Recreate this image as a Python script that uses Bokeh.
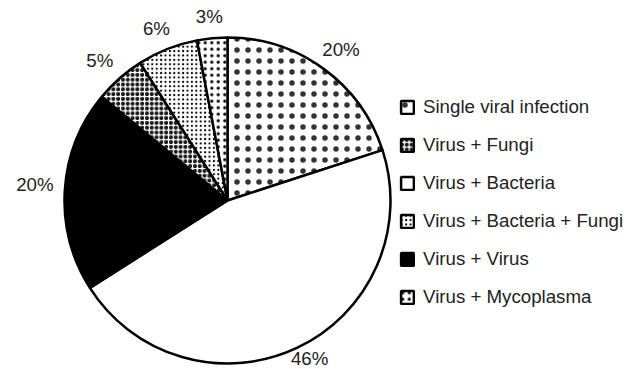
import math
from bokeh.plotting import figure
from bokeh.models import Legend, LegendItem
from bokeh.core.properties import value
from bokeh.embed import file_html
from bokeh.resources import INLINE

# Data (pie order, clockwise from 12 o'clock)
categories = ["Single viral infection", "Virus + Bacteria", "Virus + Virus",
              "Virus + Fungi", "Virus + Bacteria + Fungi", "Virus + Mycoplasma"]
percents = [20, 46, 20, 5, 6, 3]
legend_order = ["Single viral infection", "Virus + Fungi", "Virus + Bacteria",
                "Virus + Bacteria + Fungi", "Virus + Virus", "Virus + Mycoplasma"]

# Styles
styles = {
    "Single viral infection": dict(fill_color="white", hatch_pattern="dot", hatch_scale=11, hatch_alpha=0.8),
    "Virus + Bacteria": dict(fill_color="white"),
    "Virus + Virus": dict(fill_color="black"),
    "Virus + Fungi": dict(fill_color="white", hatch_pattern="ring", hatch_scale=4.8, hatch_weight=1.5),
    "Virus + Bacteria + Fungi": dict(fill_color="white", hatch_pattern="dot", hatch_scale=4.4),
    "Virus + Mycoplasma": dict(fill_color="white", hatch_pattern="dot", hatch_scale=6.5),
}

W, H = 636, 369
cx, cy, R = 227, 169, 163
FONT = "Liberation Sans"

p = figure(width=W, height=H, x_range=(0, W), y_range=(0, H),
           output_backend="svg", toolbar_location=None, min_border=0,
           outline_line_color=None)
p.axis.visible = False
p.grid.visible = False
p.background_fill_color = "white"

total = sum(percents)
renderers = {}
cum = 0.0
label_x, label_y, label_t = [], [], []
for cat, pct in zip(categories, percents):
    a0 = math.pi / 2 - 2 * math.pi * cum / total
    cum += pct
    a1 = math.pi / 2 - 2 * math.pi * cum / total
    r = p.wedge(x=cx, y=cy, radius=R, start_angle=a0, end_angle=a1, direction="clock",
                line_color="black", line_width=2.5, hatch_color="black", **styles[cat])
    renderers[cat] = r
    mid = (a0 + a1) / 2
    label_x.append(cx + 193 * math.cos(mid))
    label_y.append(cy + 5 + 180 * math.sin(mid))
    label_t.append(f"{pct}%")

p.text(x=label_x, y=label_y, text=label_t, text_align="center", text_baseline="middle",
       text_font=value(FONT), text_font_size="18.7px", text_color="#222222")

items = [LegendItem(label=c, renderers=[renderers[c]]) for c in legend_order]
legend = Legend(items=items, location=(399, 61), orientation="vertical",
                glyph_width=16, glyph_height=16, label_standoff=8, spacing=16,
                padding=0, margin=0, border_line_color=None, background_fill_alpha=0,
                label_text_font=FONT, label_text_font_size="18.7px", label_text_color="#222222")
p.add_layout(legend, "center")

open("out.html", "w").write(file_html(p, INLINE))
